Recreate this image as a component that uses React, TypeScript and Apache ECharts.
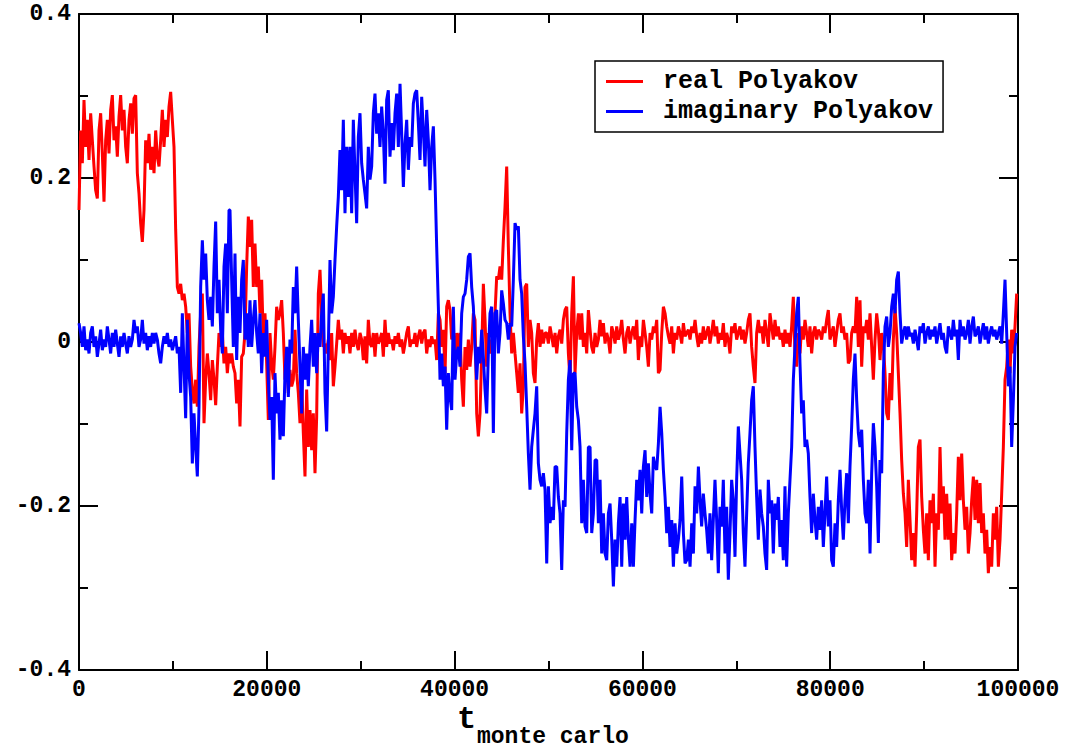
import React, { useEffect, useRef } from "react";
import * as echarts from "echarts";

// Sampling of the read-off values: each segment starts at its own time, step STEP
const STEP = 177.5;
const SEGMENT_STARTS = [0, 16080, 33300, 49810, 66310, 82820];

// real Polyakov loop
const real1 = [0.161, 0.258, 0.218, 0.295, 0.238, 0.271, 0.222, 0.279, 0.246, 0.214,
  0.185, 0.175, 0.258, 0.279, 0.230, 0.171, 0.246, 0.271, 0.230, 0.283,
  0.301, 0.246, 0.263, 0.226, 0.275, 0.301, 0.258, 0.283, 0.238, 0.218,
  0.271, 0.291, 0.254, 0.297, 0.301, 0.206, 0.181, 0.145, 0.122, 0.161,
  0.246, 0.218, 0.254, 0.210, 0.238, 0.206, 0.258, 0.226, 0.214, 0.246,
  0.283, 0.238, 0.271, 0.250, 0.287, 0.305, 0.271, 0.238, 0.137, 0.067,
  0.059, 0.071, 0.051, 0.059, 0.043, 0.011, 0.035, -0.030, -0.058, -0.075,
  -0.046, -0.079, -0.006, 0.035, 0.059, -0.099, -0.046, -0.014, -0.038, -0.071,
  -0.022, -0.046, -0.077, -0.030, 0.011, -0.006, 0.011, -0.026, -0.006, -0.038,
  -0.014];
const real2 = [-0.026, -0.014, -0.030, -0.038, -0.075, -0.046, -0.103, -0.018, -0.014, 0.011,
  0.092, 0.153, 0.116, 0.149, 0.067, 0.120, 0.067, 0.092, 0.035, 0.076,
  0.003, 0.035, -0.026, -0.095, 0.011, -0.026, -0.046, -0.006, 0.043, 0.027,
  0.035, 0.051, 0.011, -0.046, -0.014, -0.062, -0.034, -0.054, -0.046, 0.015,
  -0.038, -0.062, -0.099, -0.046, -0.111, -0.164, -0.058, -0.128, -0.083, -0.132,
  -0.087, -0.160, -0.091, 0.059, 0.088, 0.035, -0.006, -0.002, -0.014, 0.003,
  -0.022, 0.011, -0.054, -0.030, -0.002, 0.027, 0.003, 0.015, -0.014, 0.011,
  -0.002, 0.007, -0.014, 0.011, -0.006, 0.015, -0.002, -0.010, 0.011, 0.003,
  -0.022, 0.007, -0.026, 0.027, -0.002, -0.006, 0.011, -0.018, 0.011, -0.002,
  0.003, 0.011, -0.018, 0.027, -0.006, 0.011, -0.002];
const real3 = [0.003, -0.010, 0.007, -0.002, 0.011, -0.006, 0.003, -0.014, -0.002, 0.011,
  0.019, -0.006, 0.003, -0.002, 0.011, -0.006, 0.007, 0.015, -0.002, 0.011,
  0.015, -0.014, 0.003, -0.006, 0.007, -0.002, 0.003, -0.022, 0.035, 0.027,
  -0.006, 0.015, -0.038, 0.043, 0.051, 0.039, 0.003, 0.011, -0.034, 0.011,
  -0.006, 0.011, -0.046, -0.079, -0.006, -0.034, 0.003, -0.030, -0.006, 0.035,
  0.027, -0.087, -0.115, -0.087, -0.014, 0.071, 0.027, -0.030, 0.011, -0.014,
  0.003, -0.026, 0.035, 0.080, 0.076, 0.092, 0.076, 0.124, 0.165, 0.214,
  0.116, 0.035, -0.014, 0.011, -0.014, -0.038, -0.062, -0.026, -0.087, -0.054,
  0.067, 0.071, -0.006, 0.027, 0.011, -0.038, -0.050, 0.003, 0.023, -0.006,
  0.015, -0.002, 0.011];
const real4 = [0.011, -0.002, 0.019, 0.007, -0.006, 0.011, -0.014, 0.007, 0.015, -0.002,
  0.027, 0.039, 0.043, -0.014, -0.046, 0.035, 0.080, -0.038, 0.011, 0.035,
  0.003, 0.035, -0.006, 0.011, -0.014, 0.039, 0.015, -0.006, -0.014, 0.011,
  -0.006, 0.003, 0.027, 0.007, 0.023, -0.002, 0.011, 0.003, -0.014, 0.019,
  0.011, -0.002, 0.019, 0.003, 0.011, 0.027, 0.003, -0.014, 0.011, 0.019,
  -0.002, 0.011, 0.019, 0.003, 0.027, -0.022, 0.007, -0.006, 0.027, 0.011,
  -0.006, -0.030, 0.011, 0.003, 0.019, 0.011, 0.027, -0.038, -0.034, 0.011,
  0.043, 0.035, 0.019, 0.007, -0.002, 0.019, -0.014, 0.011, 0.003, 0.019,
  0.011, -0.002, 0.023, 0.007, 0.011, 0.015, 0.003, 0.019, 0.011, 0.027,
  0.007, -0.006, 0.011];
const real5 = [-0.002, 0.019, 0.003, 0.011, 0.019, -0.002, 0.011, 0.027, 0.007, 0.019,
  -0.002, 0.011, 0.003, 0.023, -0.006, 0.011, 0.003, -0.014, 0.019, 0.011,
  0.023, 0.003, 0.011, 0.019, 0.003, 0.015, -0.002, 0.011, 0.027, 0.035,
  -0.006, -0.030, -0.050, 0.011, 0.027, 0.011, 0.019, -0.002, 0.027, 0.011,
  -0.006, 0.035, 0.019, 0.003, 0.027, 0.007, 0.019, 0.003, 0.011, -0.006,
  0.015, -0.002, 0.011, -0.006, 0.019, 0.055, -0.014, -0.030, 0.011, -0.014,
  0.019, 0.003, 0.027, 0.011, -0.006, 0.019, -0.014, 0.011, 0.019, 0.003,
  0.015, 0.011, 0.003, 0.019, 0.011, 0.027, 0.039, 0.003, 0.011, 0.019,
  -0.006, 0.011, 0.027, 0.035, 0.011, 0.019, 0.003, 0.011, -0.026, -0.022,
  0.011, 0.019, 0.011];
const real6 = [0.055, -0.006, 0.051, -0.030, 0.019, 0.011, 0.027, 0.003, 0.035, -0.006,
  -0.046, 0.003, 0.035, 0.015, -0.022, 0.011, -0.002, -0.038, -0.087, -0.095,
  -0.038, -0.071, 0.003, 0.043, 0.011, -0.038, -0.087, -0.144, -0.185, -0.209,
  -0.250, -0.168, -0.217, -0.266, -0.233, -0.274, -0.209, -0.128, -0.119, -0.189,
  -0.229, -0.258, -0.209, -0.266, -0.193, -0.221, -0.185, -0.274, -0.209, -0.229,
  -0.128, -0.209, -0.176, -0.241, -0.185, -0.241, -0.197, -0.266, -0.233, -0.258,
  -0.209, -0.140, -0.193, -0.136, -0.193, -0.229, -0.201, -0.258, -0.233, -0.193,
  -0.164, -0.217, -0.168, -0.221, -0.172, -0.233, -0.209, -0.258, -0.229, -0.282,
  -0.250, -0.274, -0.209, -0.241, -0.201, -0.274, -0.241, -0.185, -0.128, -0.046,
  -0.030, 0.003, -0.038, 0.015, -0.014, 0.019, 0.059];

// imaginary Polyakov loop
const imag1 = [0.023, 0.011, -0.006, 0.019, -0.010, 0.003, -0.014, 0.011, 0.019, -0.006,
  0.007, -0.018, -0.002, 0.015, -0.010, 0.003, -0.006, 0.019, 0.003, -0.014,
  0.011, -0.006, 0.015, -0.002, -0.018, 0.007, -0.006, 0.011, -0.002, -0.014,
  0.007, -0.006, 0.003, 0.027, 0.011, 0.019, -0.006, 0.003, 0.027, -0.002,
  0.011, -0.010, 0.007, -0.006, 0.011, -0.002, 0.011, 0.003, -0.014, -0.026,
  -0.006, 0.007, -0.002, 0.011, -0.006, 0.003, -0.010, -0.002, 0.007, -0.014,
  -0.006, -0.062, 0.035, -0.030, -0.093, 0.027, -0.038, -0.067, -0.148, -0.087,
  -0.128, -0.164, -0.079, 0.067, 0.124, 0.076, 0.108, 0.051, 0.027, 0.055,
  0.019, 0.092, 0.147, 0.035, 0.076, 0.015, -0.014, 0.092, 0.120, 0.035,
  0.161];
const imag2 = [0.161, 0.076, -0.006, 0.108, -0.022, 0.055, 0.011, 0.076, 0.100, 0.003,
  0.035, -0.006, 0.051, -0.006, 0.027, 0.051, 0.011, -0.014, 0.035, -0.038,
  0.011, -0.018, 0.027, -0.046, -0.095, -0.067, -0.168, -0.038, -0.087, -0.062,
  -0.119, -0.071, -0.115, -0.038, -0.006, -0.067, 0.003, -0.014, 0.067, 0.035,
  0.092, 0.027, -0.030, -0.087, -0.006, -0.046, -0.014, -0.054, -0.006, 0.027,
  -0.030, 0.011, -0.038, 0.011, -0.006, 0.035, 0.059, -0.062, -0.109, -0.006,
  0.100, 0.035, 0.055, 0.100, 0.141, 0.177, 0.234, 0.185, 0.271, 0.157,
  0.238, 0.177, 0.238, 0.157, 0.271, 0.206, 0.145, 0.250, 0.279, 0.218,
  0.198, 0.181, 0.163, 0.238, 0.198, 0.214, 0.279, 0.303, 0.254, 0.279,
  0.238, 0.287, 0.254, 0.193, 0.295, 0.307, 0.226];
const imag3 = [0.267, 0.234, 0.279, 0.303, 0.238, 0.315, 0.254, 0.189, 0.242, 0.271,
  0.210, 0.250, 0.238, 0.291, 0.303, 0.307, 0.267, 0.222, 0.299, 0.258,
  0.214, 0.283, 0.246, 0.185, 0.238, 0.263, 0.198, 0.116, 0.043, -0.046,
  -0.014, -0.054, -0.030, -0.107, -0.038, -0.067, -0.083, 0.043, -0.046, -0.014,
  -0.006, -0.030, 0.035, 0.055, 0.059, 0.076, 0.104, 0.108, 0.067, 0.043,
  -0.006, -0.046, -0.006, -0.026, 0.015, -0.018, -0.058, -0.087, -0.014, 0.035,
  0.043, -0.111, 0.035, 0.039, -0.014, 0.011, 0.063, 0.047, 0.027, 0.023,
  0.003, 0.023, 0.019, 0.076, 0.145, 0.137, 0.141, 0.076, 0.059, 0.007,
  -0.026, -0.079, -0.136, -0.180, -0.128, -0.107, -0.087, -0.054, -0.148, -0.168,
  -0.176, -0.160, -0.180];
const imag4 = [-0.270, -0.176, -0.221, -0.201, -0.217, -0.152, -0.152, -0.189, -0.209, -0.278,
  -0.193, -0.201, -0.111, -0.046, -0.022, -0.132, -0.038, -0.038, -0.079, -0.095,
  -0.128, -0.221, -0.168, -0.225, -0.233, -0.128, -0.128, -0.233, -0.209, -0.144,
  -0.144, -0.221, -0.168, -0.258, -0.209, -0.258, -0.266, -0.209, -0.197, -0.241,
  -0.298, -0.241, -0.274, -0.221, -0.189, -0.274, -0.197, -0.241, -0.189, -0.241,
  -0.274, -0.221, -0.274, -0.217, -0.168, -0.193, -0.156, -0.209, -0.152, -0.132,
  -0.189, -0.148, -0.185, -0.209, -0.140, -0.152, -0.156, -0.124, -0.079, -0.111,
  -0.156, -0.189, -0.233, -0.201, -0.250, -0.217, -0.274, -0.221, -0.258, -0.241,
  -0.217, -0.164, -0.233, -0.270, -0.266, -0.241, -0.274, -0.221, -0.258, -0.176,
  -0.209, -0.152, -0.193];
const imag5 = [-0.225, -0.185, -0.209, -0.229, -0.258, -0.209, -0.266, -0.217, -0.168, -0.217,
  -0.282, -0.201, -0.225, -0.168, -0.258, -0.201, -0.290, -0.233, -0.168, -0.193,
  -0.262, -0.168, -0.103, -0.136, -0.168, -0.233, -0.274, -0.209, -0.148, -0.111,
  -0.071, -0.054, -0.128, -0.189, -0.241, -0.180, -0.209, -0.225, -0.258, -0.278,
  -0.168, -0.209, -0.193, -0.258, -0.197, -0.217, -0.189, -0.250, -0.217, -0.266,
  -0.176, -0.274, -0.209, -0.168, -0.128, -0.046, -0.006, 0.035, 0.055, -0.026,
  -0.087, -0.071, -0.128, -0.119, -0.136, -0.189, -0.233, -0.185, -0.217, -0.241,
  -0.201, -0.229, -0.193, -0.250, -0.209, -0.164, -0.225, -0.193, -0.266, -0.274,
  -0.221, -0.250, -0.193, -0.156, -0.205, -0.241, -0.193, -0.160, -0.221, -0.152,
  -0.103, -0.046, -0.014];
const imag6 = [-0.071, -0.111, -0.128, -0.107, -0.168, -0.209, -0.221, -0.168, -0.258, -0.160,
  -0.099, -0.128, -0.176, -0.245, -0.144, -0.160, -0.038, 0.019, 0.031, -0.006,
  0.011, 0.043, 0.059, 0.035, 0.076, 0.086, 0.035, -0.002, 0.011, 0.019,
  0.003, 0.019, 0.007, 0.011, -0.002, 0.015, 0.003, -0.010, 0.019, 0.011,
  0.023, -0.002, 0.011, 0.019, 0.003, 0.015, 0.007, 0.019, -0.002, 0.011,
  0.023, 0.003, 0.011, -0.006, -0.014, 0.019, 0.011, 0.003, 0.027, 0.007,
  0.015, -0.022, 0.027, 0.007, 0.019, 0.003, 0.011, 0.027, -0.002, 0.019,
  0.031, 0.007, 0.011, 0.019, -0.002, 0.011, 0.023, 0.003, 0.019, -0.002,
  0.011, 0.019, 0.007, 0.015, 0.003, 0.011, 0.019, -0.002, 0.035, 0.076,
  0.011, -0.054, -0.030, -0.128, -0.071, -0.006, 0.011];

const REAL_SEGMENTS = [real1, real2, real3, real4, real5, real6];
const IMAG_SEGMENTS = [imag1, imag2, imag3, imag4, imag5, imag6];

const SERIES_NAMES = ["real Polyakov", "imaginary Polyakov"];
const SERIES_COLORS = ["#ff0000", "#0000ff"];

const X_MIN = 0;
const X_MAX = 100000;
const X_INTERVAL = 20000;
const Y_MIN = -0.4;
const Y_MAX = 0.4;
const Y_INTERVAL = 0.2;

const FONT = "'Liberation Mono', 'Courier New', monospace";

function toPairs(segments: number[][]): [number, number][] {
  const out: [number, number][] = [];
  segments.forEach((seg, s) => {
    seg.forEach((v, k) => out.push([SEGMENT_STARTS[s] + k * STEP, v]));
  });
  return out;
}

export default function App() {
  const ref = useRef<HTMLDivElement>(null);

  useEffect(() => {
    if (!ref.current) return;
    const chart = echarts.init(ref.current, null, { renderer: "svg" });

    const line = { color: "#000", width: 2 };
    const baseX = {
      type: "value" as const,
      min: X_MIN,
      max: X_MAX,
      interval: X_INTERVAL,
      axisLine: { show: true, onZero: false, lineStyle: line },
      axisTick: { show: true, inside: true, length: 19, lineStyle: line },
      minorTick: { show: true, splitNumber: 2, length: 9, lineStyle: line },
      splitLine: { show: false },
      minorSplitLine: { show: false },
    };
    const baseY = {
      type: "value" as const,
      min: Y_MIN,
      max: Y_MAX,
      interval: Y_INTERVAL,
      axisLine: { show: true, onZero: false, lineStyle: line },
      axisTick: { show: true, inside: true, length: 19, lineStyle: line },
      minorTick: { show: true, splitNumber: 2, length: 9, lineStyle: line },
      splitLine: { show: false },
      minorSplitLine: { show: false },
    };
    const labelStyle = {
      color: "#000",
      fontFamily: FONT,
      fontWeight: "bold" as const,
      fontSize: 23,
    };

    chart.setOption({
      animation: false,
      backgroundColor: "#fff",
      grid: { left: 79, right: 53, top: 14, bottom: 83, containLabel: false },
      xAxis: [
        {
          ...baseX,
          position: "bottom",
          axisLabel: { ...labelStyle, margin: 10, lineHeight: 20, formatter: (v: number) => String(Math.round(v)) },
        },
        { ...baseX, position: "top", axisLabel: { show: false } },
      ],
      yAxis: [
        {
          ...baseY,
          position: "left",
          axisLabel: { ...labelStyle, margin: 8, formatter: (v: number) => String(Math.round(v * 10) / 10) },
        },
        { ...baseY, position: "right", axisLabel: { show: false } },
      ],
      legend: {
        data: SERIES_NAMES,
        orient: "vertical",
        left: 595,
        top: 61,
        icon: "rect",
        itemWidth: 37,
        itemHeight: 3,
        itemGap: 5,
        padding: [8, 10, 8, 11],
        borderColor: "#000",
        borderWidth: 1.5,
        backgroundColor: "#fff",
        formatter: (n: string) => " " + n,
        textStyle: { color: "#000", fontFamily: FONT, fontWeight: "bold", fontSize: 25 },
      },
      graphic: [
        {
          type: "text",
          style: {
            text: "t",
            x: 457,
            y: 719,
            fill: "#000",
            font: `bold 32px ${FONT}`,
            lineHeight: 20,
            align: "left",
            verticalAlign: "middle",
          },
        },
        {
          type: "text",
          style: {
            text: "monte carlo",
            x: 477,
            y: 737,
            fill: "#000",
            font: `bold 23px ${FONT}`,
            lineHeight: 16,
            align: "left",
            verticalAlign: "middle",
          },
        },
      ],
      series: [
        {
          name: SERIES_NAMES[0],
          type: "line",
          xAxisIndex: 0,
          yAxisIndex: 0,
          data: toPairs(REAL_SEGMENTS),
          showSymbol: false,
          symbol: "none",
          color: SERIES_COLORS[0],
          lineStyle: { color: SERIES_COLORS[0], width: 3 },
        },
        {
          name: SERIES_NAMES[1],
          type: "line",
          xAxisIndex: 0,
          yAxisIndex: 0,
          data: toPairs(IMAG_SEGMENTS),
          showSymbol: false,
          symbol: "none",
          color: SERIES_COLORS[1],
          lineStyle: { color: SERIES_COLORS[1], width: 3 },
        },
      ],
    });

    return () => chart.dispose();
  }, []);

  return (
    <div
      ref={ref}
      style={{ position: "fixed", left: 0, top: 0, width: 1071, height: 753, background: "#fff" }}
    />
  );
}
